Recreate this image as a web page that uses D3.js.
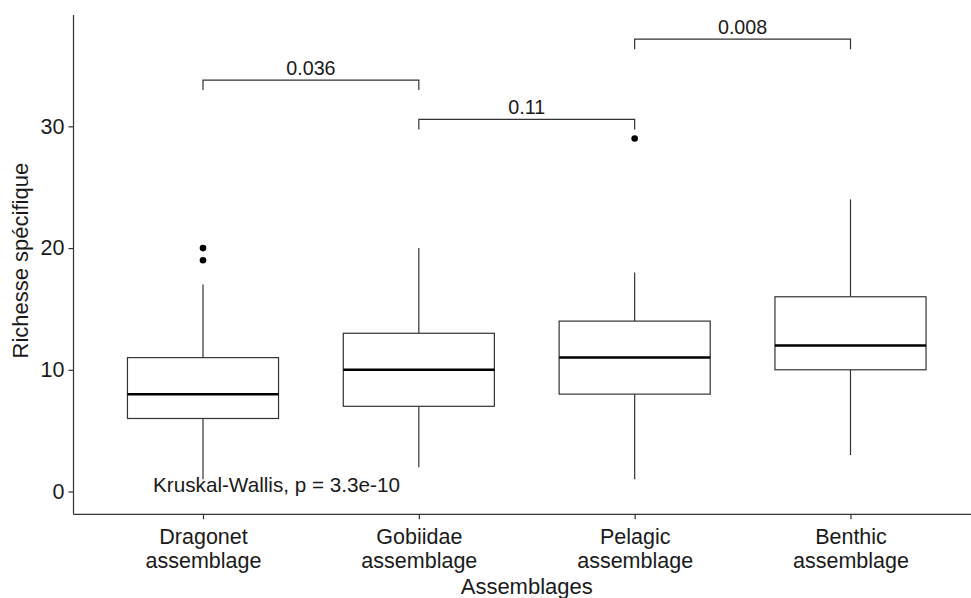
<!DOCTYPE html>
<html>
<head>
<meta charset="utf-8">
<script src="https://cdn.jsdelivr.net/npm/d3@7"></script>
<style>
  html, body { margin: 0; padding: 0; background: #fff; }
  svg { display: block; }
  text { font-family: "Liberation Sans", Arial, sans-serif; fill: #1a1a1a; }
</style>
</head>
<body>
<svg id="chart" width="971" height="598"></svg>
<script>
// Species richness per assemblage: box-plot summaries
const categories = ["Dragonet assemblage", "Gobiidae assemblage", "Pelagic assemblage", "Benthic assemblage"];
const whiskerLow = [1, 2, 1, 3];
const q1 = [6, 7, 8, 10];
const median = [8, 10, 11, 12];
const q3 = [11, 13, 14, 16];
const whiskerHigh = [17, 20, 18, 24];
const outliers = [[19, 20], [], [29], []];

// Pairwise comparisons (Wilcoxon p-values) and bracket heights
const pairFrom = [0, 1, 2];
const pairTo = [1, 2, 3];
const pairLabels = ["0.036", "0.11", "0.008"];
const pairY = [33.8, 30.57, 37.16];
const yTicks = [0, 10, 20, 30];
const globalTest = "Kruskal-Wallis, p = 3.3e-10";

const svg = d3.select("#chart");
const mLeft = 73.5, mRight = 980, mTop = 15, mBottom = 514.3;

const x = d3.scalePoint().domain(categories).range([mLeft, mRight]).padding(0.6);
const y = d3.scaleLinear().domain([-1.873, 39.15]).range([mBottom, mTop]);
const boxW = x.step() * 0.7;
const lineCol = "#333333";

// Axes
const yAxis = svg.append("g").attr("transform", `translate(${mLeft},0)`)
  .call(d3.axisLeft(y).tickValues(yTicks).tickSize(5).tickPadding(4));
const xAxis = svg.append("g").attr("transform", `translate(0,${mBottom})`)
  .call(d3.axisBottom(x).tickSize(5).tickFormat(() => ""));
[yAxis, xAxis].forEach(g => {
  g.select(".domain").attr("stroke", lineCol).attr("stroke-width", 1.2);
  g.selectAll(".tick line").attr("stroke", lineCol).attr("stroke-width", 1.2);
});
yAxis.select(".domain").attr("d", `M0,${mTop}V${mBottom}`);
xAxis.select(".domain").attr("d", `M${mLeft},0H${mRight}`);
yAxis.selectAll(".tick text").attr("font-size", 21.5).attr("fill", "#1a1a1a")
  .attr("font-family", "Liberation Sans, Arial, sans-serif");

// Two-line category labels
xAxis.selectAll(".tick").each(function(d) {
  const words = d.split(" ");
  const t = d3.select(this).append("text")
    .attr("text-anchor", "middle").attr("font-size", 21.5).attr("fill", "#1a1a1a");
  words.forEach((w, i) => t.append("tspan").attr("x", 0).attr("y", 29.5 + i * 24).text(w));
});

// Axis titles
svg.append("text").attr("x", (mLeft + mRight) / 2).attr("y", 594)
  .attr("text-anchor", "middle").attr("font-size", 22).text("Assemblages");
svg.append("text").attr("transform", `translate(28,${(mTop + mBottom) / 2 - 4}) rotate(-90)`)
  .attr("text-anchor", "middle").attr("font-size", 22).text("Richesse spécifique");

// Boxes
const g = svg.append("g");
categories.forEach((c, i) => {
  const cx = x(c);
  g.append("line").attr("x1", cx).attr("x2", cx).attr("y1", y(whiskerHigh[i])).attr("y2", y(q3[i]))
    .attr("stroke", lineCol).attr("stroke-width", 1.2);
  g.append("line").attr("x1", cx).attr("x2", cx).attr("y1", y(q1[i])).attr("y2", y(whiskerLow[i]))
    .attr("stroke", lineCol).attr("stroke-width", 1.2);
  g.append("rect").attr("x", cx - boxW / 2).attr("width", boxW)
    .attr("y", y(q3[i])).attr("height", y(q1[i]) - y(q3[i]))
    .attr("fill", "#fff").attr("stroke", lineCol).attr("stroke-width", 1.2);
  g.append("line").attr("x1", cx - boxW / 2).attr("x2", cx + boxW / 2)
    .attr("y1", y(median[i])).attr("y2", y(median[i]))
    .attr("stroke", "#000").attr("stroke-width", 2.5);
  outliers[i].forEach(v => {
    g.append("circle").attr("cx", cx).attr("cy", y(v)).attr("r", 3.3).attr("fill", "#000");
  });
});

// Comparison brackets
pairLabels.forEach((lab, i) => {
  const x1 = x(categories[pairFrom[i]]), x2 = x(categories[pairTo[i]]);
  const yl = y(pairY[i]);
  g.append("path")
    .attr("d", `M${x1},${yl + 10}V${yl}H${x2}V${yl + 10}`)
    .attr("fill", "none").attr("stroke", lineCol).attr("stroke-width", 1.2);
  g.append("text").attr("x", (x1 + x2) / 2).attr("y", yl - 5.5)
    .attr("text-anchor", "middle").attr("font-size", 19.7).text(lab);
});

// Global test
svg.append("text").attr("x", 153).attr("y", y(0)).attr("font-size", 20.7).text(globalTest);
</script>
</body>
</html>
